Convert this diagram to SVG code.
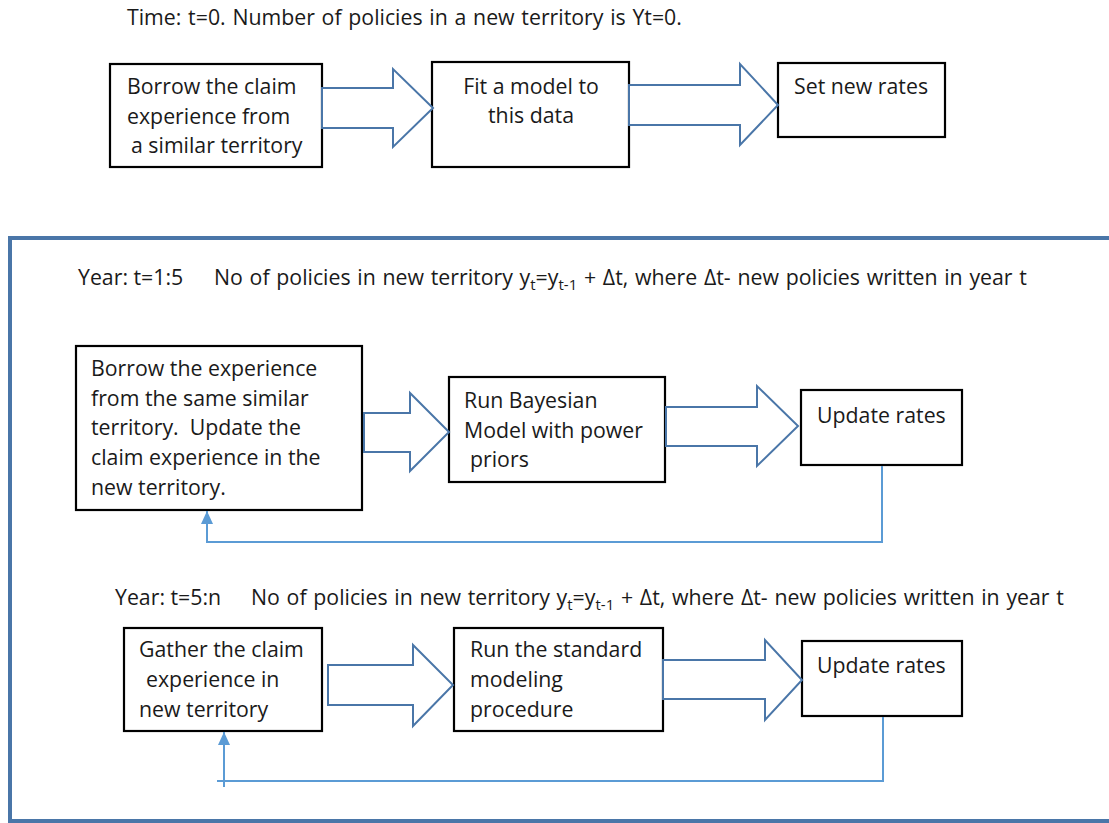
<svg xmlns="http://www.w3.org/2000/svg" width="1109" height="823" viewBox="0 0 1109 823">
<style>
text{font-family:"Open Sans","Liberation Sans",sans-serif;font-size:21.3px;fill:#1a1a1a}
.wide{word-spacing:1.2px}
.box{fill:#fff;stroke:#000;stroke-width:2.2}
.barrow{fill:#fff;stroke:#4a76a8;stroke-width:2}
.fb{fill:none;stroke:#5b9bd5;stroke-width:2}
.sub{font-size:15px}
</style>
<defs>
<marker id="ah" markerWidth="13" markerHeight="12" refX="13" refY="6" orient="auto" markerUnits="userSpaceOnUse" viewBox="0 0 13 12">
<path d="M0,0 L13,6 L0,12 Z" fill="#5b9bd5"/>
</marker>
</defs>
<rect width="1109" height="823" fill="#fff"/>
<text class="wide" x="127" y="25">Time: t=0. Number of policies in a new territory is Yt=0.</text>
<rect x="10" y="238" width="1110" height="583" fill="none" stroke="#4a76a8" stroke-width="4"/>
<g id="n1"><rect class="box" x="110" y="64" width="212" height="103"/>
<text x="127" y="94">Borrow the claim</text><text x="127" y="124">experience from</text><text x="131" y="153">a similar territory</text></g>
<g id="n2"><rect class="box" x="432" y="62" width="197" height="105"/>
<text x="531" y="94" text-anchor="middle">Fit a model to</text><text x="531" y="123" text-anchor="middle">this data</text></g>
<g id="n3"><rect class="box" x="778" y="63" width="167" height="74"/>
<text x="794" y="94">Set new rates</text></g>
<text x="78" y="285">Year: t=1:5</text>
<text class="wide" x="214" y="285">No of policies in new territory y<tspan class="sub" dy="5">t</tspan><tspan dy="-5">=y</tspan><tspan class="sub" dy="5">t-1</tspan><tspan dy="-5"> + Δt, where Δt- new policies written in year t</tspan></text>
<g id="n4"><rect class="box" x="76" y="346" width="286" height="164"/>
<text x="91" y="376">Borrow the experience</text><text x="91" y="406">from the same similar</text><text x="91" y="435" xml:space="preserve">territory.  Update the</text><text x="91" y="465">claim experience in the</text><text x="91" y="495">new territory.</text></g>
<g id="n5"><rect class="box" x="449" y="377" width="216" height="105"/>
<text x="464" y="408">Run Bayesian</text><text x="464" y="438">Model with power</text><text x="470" y="467">priors</text></g>
<g id="n6"><rect class="box" x="801" y="390" width="161" height="75"/>
<text x="817" y="423">Update rates</text></g>
<text x="115" y="605">Year: t=5:n</text>
<text class="wide" x="251" y="605">No of policies in new territory y<tspan class="sub" dy="5">t</tspan><tspan dy="-5">=y</tspan><tspan class="sub" dy="5">t-1</tspan><tspan dy="-5"> + Δt, where Δt- new policies written in year t</tspan></text>
<g id="n7"><rect class="box" x="124" y="628" width="198" height="103"/>
<text x="139" y="657">Gather the claim</text><text x="146" y="687">experience in</text><text x="139" y="717">new territory</text></g>
<g id="n8"><rect class="box" x="454" y="628" width="209" height="103"/>
<text x="470" y="657">Run the standard</text><text x="470" y="687">modeling</text><text x="470" y="717">procedure</text></g>
<g id="n9"><rect class="box" x="802" y="641" width="160" height="75"/>
<text x="817" y="673">Update rates</text></g>
<g id="connectors">
<path class="barrow" d="M322,88 H393 V69 L433,108 L393,147 V128 H322 Z"/>
<path class="barrow" d="M629,85 H740 V64 L778,105 L740,145 V125 H629 Z"/>
<path class="barrow" d="M364,413 H410 V393 L449,432 L410,471 V452 H364 Z"/>
<path class="barrow" d="M666,407 H757 V386 L798,426 L757,466 V446 H666 Z"/>
<path class="barrow" d="M328,665 H413 V645 L453,685 L413,726 V705 H328 Z"/>
<path class="barrow" d="M663,660 H765 V640 L802,680 L765,720 V699 H663 Z"/>
<path class="fb" d="M882,466 V542 H207 V511" marker-end="url(#ah)"/>
<path class="fb" d="M883,717 V781 H217"/>
<path class="fb" d="M224,787 V732" marker-end="url(#ah)"/>
</g>
</svg>
